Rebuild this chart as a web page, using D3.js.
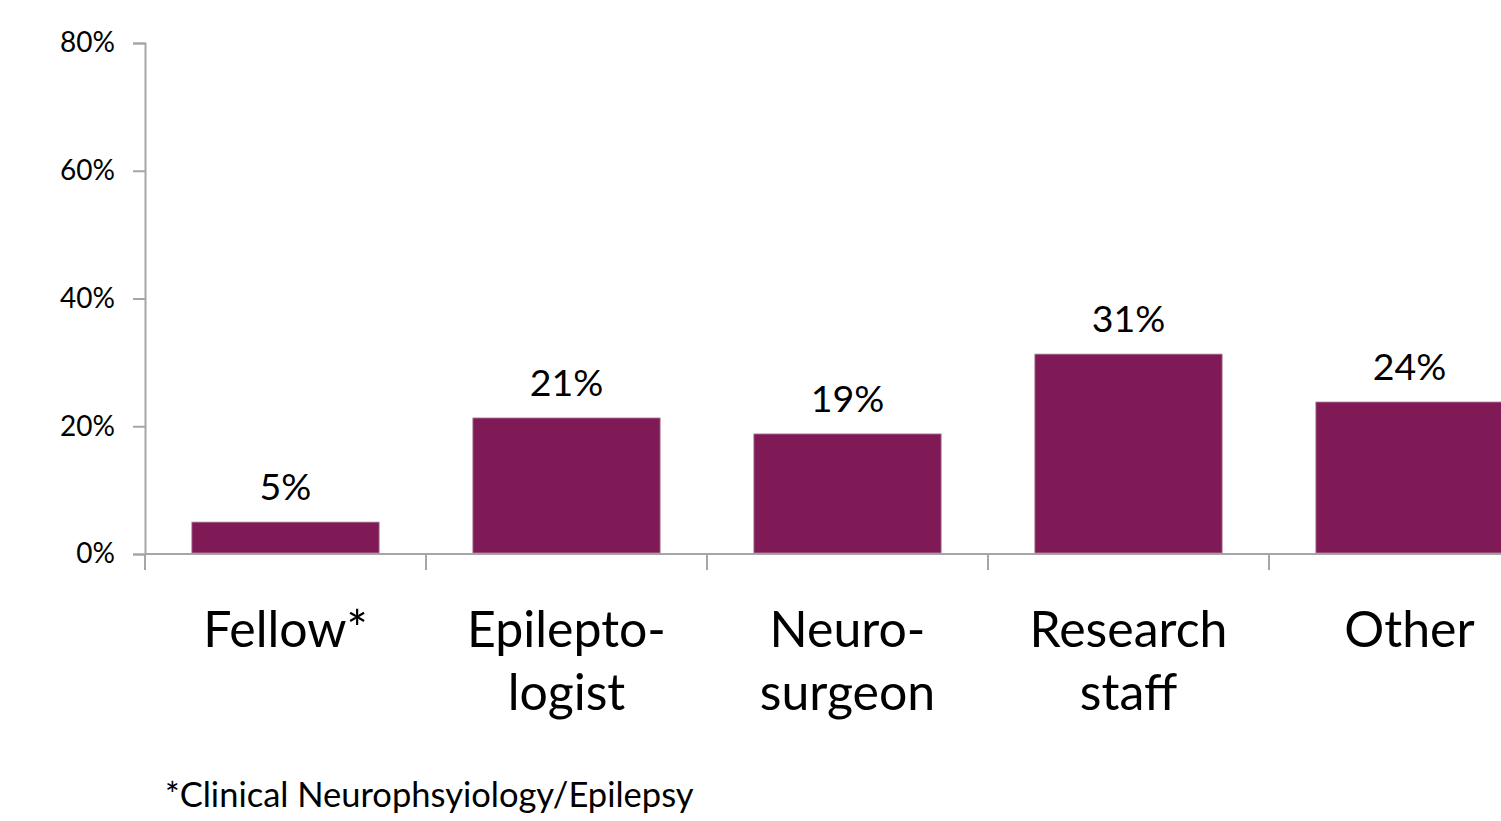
<!DOCTYPE html>
<html>
<head>
<meta charset="utf-8">
<script src="https://cdn.jsdelivr.net/npm/d3@7"></script>
<style>
  html, body { margin: 0; padding: 0; background: #fff; }
  svg { display: block; font-family: Lato, "Open Sans", sans-serif; }
</style>
</head>
<body>
<svg id="chart" width="1501" height="821"></svg>
<script>
const categories = [["Fellow*"], ["Epilepto-", "logist"], ["Neuro-", "surgeon"], ["Research", "staff"], ["Other"]];
const values = [5.0, 21.3, 18.8, 31.3, 23.8];
const valueLabels = ["5%", "21%", "19%", "31%", "24%"];
const yTicks = [0, 20, 40, 60, 80];
const footnote = "*Clinical Neurophsyiology/Epilepsy";

const svg = d3.select("#chart");
const axisColor = "#a6a6a6";
const barColor = "#7f1a56";

const x = d3.scaleBand()
  .domain(d3.range(categories.length))
  .range([145, 1550])
  .paddingInner(1/3)
  .paddingOuter(1/6);
const step = x.step();

const y = d3.scaleLinear().domain([0, 80]).range([554, 43]);

// Y axis
const yAxis = svg.append("g")
  .attr("transform", "translate(145,0)")
  .call(d3.axisLeft(y).tickValues(yTicks).tickFormat(d => d + "%").tickSizeOuter(0).tickSize(12).tickPadding(18));
yAxis.select(".domain").attr("stroke", axisColor).attr("stroke-width", 2);
yAxis.selectAll(".tick line").attr("stroke", axisColor).attr("stroke-width", 2);
yAxis.selectAll(".tick text").attr("fill", "#000").style("font-size", "28px").style("font-family", "Lato, 'Open Sans', sans-serif");

// X axis line + ticks at band boundaries
svg.append("line")
  .attr("x1", 145).attr("x2", 1501)
  .attr("y1", y(0)).attr("y2", y(0))
  .attr("stroke", axisColor).attr("stroke-width", 2);
svg.selectAll(".xtick")
  .data(d3.range(categories.length))
  .enter().append("line")
  .attr("class", "xtick")
  .attr("x1", i => x(i) - step / 6).attr("x2", i => x(i) - step / 6)
  .attr("y1", y(0)).attr("y2", y(0) + 16)
  .attr("stroke", axisColor).attr("stroke-width", 2);

// Bars
svg.selectAll(".bar")
  .data(values)
  .enter().append("rect")
  .attr("class", "bar")
  .attr("x", (d, i) => x(i))
  .attr("width", x.bandwidth())
  .attr("y", d => y(d))
  .attr("height", d => y(0) - y(d) - 1)
  .attr("fill", barColor)
  .attr("stroke", "#b48ca4")
  .attr("stroke-width", 0.8);

// Value labels
svg.selectAll(".vlabel")
  .data(values)
  .enter().append("text")
  .attr("class", "vlabel")
  .attr("x", (d, i) => x(i) + x.bandwidth() / 2)
  .attr("y", d => y(d) - 22)
  .attr("text-anchor", "middle")
  .style("font-size", "37.5px")
  .attr("fill", "#000")
  .text((d, i) => valueLabels[i]);

// Category labels
const cat = svg.selectAll(".clabel")
  .data(categories)
  .enter().append("text")
  .attr("class", "clabel")
  .attr("text-anchor", "middle")
  .style("font-size", "50px")
  .attr("fill", "#000");
cat.each(function(lines, i) {
  const t = d3.select(this);
  lines.forEach((ln, j) => {
    t.append("tspan")
      .attr("x", x(i) + x.bandwidth() / 2)
      .attr("y", 647 + j * 63)
      .text(ln);
  });
});

// Footnote
svg.append("text")
  .attr("x", 165).attr("y", 807)
  .style("font-size", "34.5px")
  .attr("fill", "#000")
  .text(footnote);
</script>
</body>
</html>
